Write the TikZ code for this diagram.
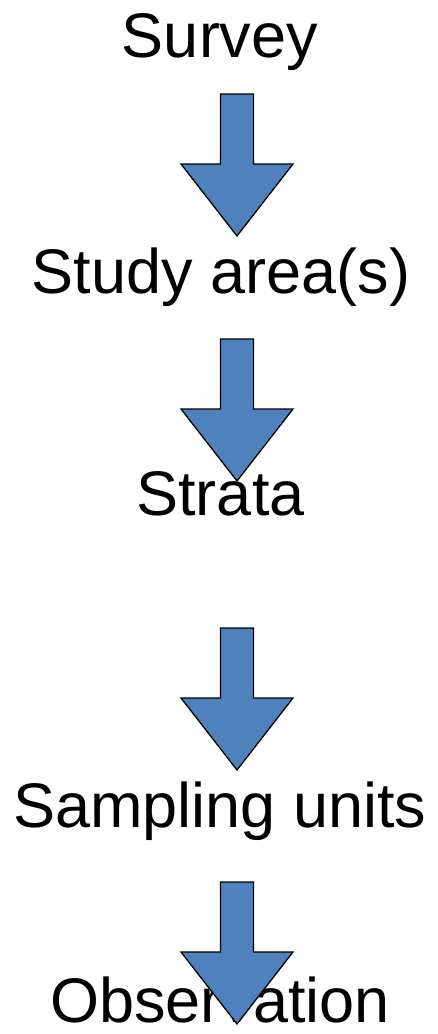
\documentclass[tikz,border=0pt]{standalone}
\usepackage{fontspec}
\setmainfont{Liberation Sans}
\definecolor{blockblue}{HTML}{4F81BD}
\begin{document}
\begin{tikzpicture}[x=1pt,y=-1pt,
  label/.style={font=\fontsize{63}{63}\selectfont, anchor=base, inner sep=0pt, text=black},
  blockarrow/.style={fill=blockblue, draw=black, line width=1.3pt, line join=miter},
  pics/downarrow/.style={code={
    % shaft 33 wide, 70 tall; head 112 wide, 72 tall
    \path[blockarrow] (-16.5,0) -- (16.5,0) -- (16.5,70) -- (56,70) -- (0,142)
      -- (-56,70) -- (-16.5,70) -- cycle;
  }}]
\useasboundingbox (0,0) rectangle (437,1034);
% stage labels
\node[label] (survey) at (220,57) {Survey};
\node[label] (area)   at (221,293) {Study area(s)};
\node[label] (strata) at (220.5,515) {Strata};
\node[label] (units)  at (220,827) {Sampling units};
\node[label] (obs)    at (220,1022) {Observation};
% block arrows between the stages
\pic at (237,94)  {downarrow};
\pic at (237,339) {downarrow};
\pic at (237,628) {downarrow};
\pic at (237,882) {downarrow};
\end{tikzpicture}
\end{document}
